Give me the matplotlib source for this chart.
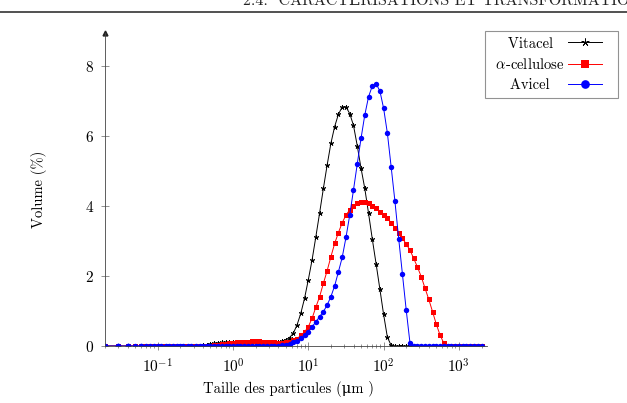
import matplotlib
matplotlib.use('Agg')
import matplotlib.pyplot as plt
from matplotlib.lines import Line2D
from matplotlib.legend_handler import HandlerLine2D
from matplotlib.ticker import LogLocator, NullFormatter, FixedLocator

plt.rcParams['font.family'] = ['cmr10', 'DejaVu Serif']
plt.rcParams['mathtext.fontset'] = 'cm'
plt.rcParams['axes.formatter.use_mathtext'] = True

# particle size classes (um), as exported (rounded to 2 decimals)
sizes = [0.02, 0.02, 0.03, 0.03, 0.03, 0.04, 0.04, 0.04, 0.05, 0.06,
         0.06, 0.07, 0.08, 0.09, 0.10, 0.11, 0.13, 0.14, 0.16, 0.18,
         0.20, 0.22, 0.25, 0.28, 0.32, 0.36, 0.40, 0.45, 0.50, 0.56,
         0.63, 0.71, 0.80, 0.89, 1.00, 1.12, 1.26, 1.42, 1.59, 1.78,
         2.00, 2.24, 2.52, 2.83, 3.17, 3.56, 3.99, 4.48, 5.02, 5.64,
         6.32, 7.10, 7.96, 8.93, 10.02, 11.25, 12.62, 14.16, 15.89, 17.83,
         20.00, 22.44, 25.18, 28.25, 31.70, 35.57, 39.91, 44.77, 50.24, 56.37,
         63.25, 70.96, 79.62, 89.34, 100.24, 112.47, 126.19, 141.59, 158.87, 178.25,
         200.00, 224.40, 251.79, 282.51, 316.98, 355.66, 399.05, 447.74, 502.38, 563.68,
         632.46, 709.63, 796.21, 893.37, 1002.37, 1124.68, 1261.92, 1415.89, 1588.66, 1782.50,
         2000.00]

vitacel = [0] * 26 + [
    0.02, 0.04, 0.06, 0.08, 0.09, 0.10, 0.11, 0.11, 0.12, 0.12,
    0.12, 0.12, 0.11, 0.11, 0.10, 0.09, 0.08, 0.08, 0.08, 0.09,
    0.11, 0.14, 0.18, 0.24, 0.36, 0.60, 0.93, 1.36, 1.89, 2.46,
    3.12, 3.80, 4.50, 5.17, 5.79, 6.27, 6.62, 6.83, 6.83, 6.64,
    6.30, 5.72, 5.08, 4.50, 3.79, 3.05, 2.35, 1.63, 0.90, 0.25,
    0.02] + [0] * 24

alpha_cellulose = [0] * 28 + [
    0.01, 0.02, 0.03, 0.05, 0.06, 0.08, 0.09, 0.10, 0.11, 0.12,
    0.12, 0.13, 0.13, 0.13, 0.12, 0.12, 0.11, 0.10, 0.09, 0.09,
    0.10, 0.12, 0.16, 0.21, 0.30, 0.40, 0.55, 0.79, 1.11, 1.41,
    1.79, 2.15, 2.55, 2.93, 3.24, 3.52, 3.74, 3.89, 4.00, 4.08,
    4.12, 4.12, 4.08, 4.00, 3.93, 3.84, 3.74, 3.65, 3.52, 3.38,
    3.24, 3.08, 2.91, 2.74, 2.50, 2.25, 1.98, 1.65, 1.33, 0.98,
    0.62, 0.31, 0.08] + [0] * 10

avicel = [0] * 46 + [
    0.01, 0.02, 0.04, 0.07, 0.10, 0.15, 0.22, 0.31, 0.41, 0.55,
    0.69, 0.84, 0.98, 1.17, 1.41, 1.72, 2.12, 2.53, 3.10, 3.74,
    4.46, 5.20, 5.93, 6.60, 7.12, 7.43, 7.49, 7.29, 6.79, 6.08,
    5.12, 4.14, 3.07, 2.05, 1.03, 0.09] + [0] * 19

series_labels = ['Vitacel', r'$\alpha$-cellulose', 'Avicel']
y_ticks = [0, 2, 4, 6, 8]


class ShortLineHandler(HandlerLine2D):
    """Legend line that stops short of the right edge of the handle box."""

    def __init__(self, gap, **kw):
        super().__init__(**kw)
        self.gap = gap

    def create_artists(self, legend, orig_handle, xdescent, ydescent,
                       width, height, fontsize, trans):
        return super().create_artists(legend, orig_handle, xdescent, ydescent,
                                      width - self.gap, height, fontsize, trans)


W, H = 627, 403
fig = plt.figure(figsize=(W / 100, H / 100), dpi=100)
ax = fig.add_axes([105 / W, 57 / H, 382 / W, 313.3 / H])

lw = 0.7
l1, = ax.plot(sizes, vitacel, color='black', lw=lw, marker=(5, 2, 0), ms=3.6,
              mew=0.55, label=' ' + series_labels[0])
l2, = ax.plot(sizes, alpha_cellulose, color='red', lw=lw, marker='s', ms=3.6,
              mew=0, label=' ' + series_labels[1])
l3, = ax.plot(sizes, avicel, color='blue', lw=lw, marker='o', ms=3.9,
              mew=0, label=' ' + series_labels[2])

ax.set_xscale('log')
ax.set_xlim(0.02, 2366)
ax.set_ylim(0, 8.95)

for s in ['top', 'right']:
    ax.spines[s].set_visible(False)
for s in ['left', 'bottom']:
    ax.spines[s].set_linewidth(0.6)
    ax.spines[s].set_color('#444444')

ax.plot([0], [1], marker='^', color='#222222', ms=3.5, transform=ax.transAxes,
        clip_on=False)

ax.yaxis.set_major_locator(FixedLocator(y_ticks))
ax.xaxis.set_major_locator(LogLocator(base=10, numticks=20))
ax.xaxis.set_minor_locator(LogLocator(base=10, subs=range(2, 10), numticks=20))
ax.xaxis.set_minor_formatter(NullFormatter())
ax.tick_params(which='major', direction='inout', length=6, width=0.5,
               color='#666666', labelsize=11, pad=5)
ax.tick_params(which='minor', direction='inout', length=3.5, width=0.5,
               color='#666666')

ax.set_xlabel('Taille des particules (\u03bcm )', fontsize=10.5)
ax.xaxis.set_label_coords((288 - 105) / 382, -35 / 313.3)
ax.set_ylabel('Volume (%)', fontsize=10.5, labelpad=27)

fs = 10.5
px2pt = 0.72
hmap = {h: ShortLineHandler(gap=10 * px2pt) for h in (l1, l2, l3)}
leg = ax.legend(loc='upper right', bbox_to_anchor=(618 / W, 1 - 31 / H),
                bbox_transform=fig.transFigure, borderaxespad=0,
                markerfirst=False, fancybox=False, frameon=True,
                fontsize=fs, handlelength=44 * px2pt / fs,
                handletextpad=4 * px2pt / fs,
                labelspacing=0.45, borderpad=0.4, markerscale=1.6,
                handler_map=hmap)
leg.get_frame().set_edgecolor('#777777')
leg.get_frame().set_linewidth(0.8)

# center the legend labels in their column
fig.canvas.draw()
rend = fig.canvas.get_renderer()
texts = leg.get_texts()
widths = [t.get_window_extent(rend).width for t in texts]
wmax = max(widths)
for t, w in zip(texts, widths):
    t.set_x(t.get_position()[0] - (wmax - w) / 2)

# page header (cut at the top of the image)
fig.text(243 / W, 1 - 5 / H, '2.4.  CARACT\u00c9RISATIONS ET TRANSFORMATIONS',
         fontsize=11.5, va='baseline', ha='left', color='#222222')
fig.add_artist(Line2D([0, 1], [1 - 12 / H, 1 - 12 / H], transform=fig.transFigure,
                      color='#333333', lw=1.2))

fig.savefig('out.png', dpi=100)
